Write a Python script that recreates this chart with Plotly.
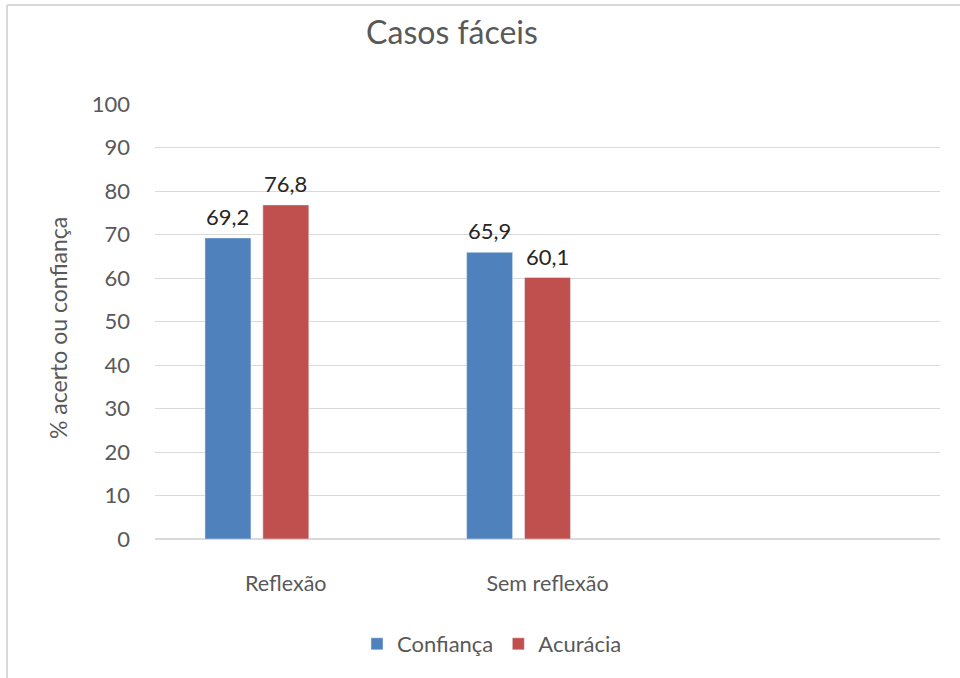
import plotly.graph_objects as go

categories = ["Reflexão", "Sem reflexão"]
confianca = [69.2, 65.9]
acuracia = [76.8, 60.1]
series_names = ["Confiança", "Acurácia"]
y_ticks = [0, 10, 20, 30, 40, 50, 60, 70, 80, 90, 100]

W, H = 960, 678
L, R, T, B = 155, 20, 104, 139
pw, ph = W - L - R, H - T - B
cat_px = pw / 3.0

def px_x(p):
    return (p - L) / pw

def px_y(p):
    return (H - B - p) / ph

font = "Lato, Open Sans, sans-serif"
gray = "#595959"
bar_w = 0.1756
offsets = [-0.309, -0.0878]
colors = ["#4F81BD", "#C0504D"]
series = [confianca, acuracia]

fig = go.Figure()
annotations = []
for name, vals, col, off in zip(series_names, series, colors, offsets):
    fig.add_trace(go.Bar(
        x=categories, y=vals, name=name,
        marker=dict(color=col), width=bar_w, offset=off,
    ))
    for c, v in zip(categories, vals):
        annotations.append(dict(
            x=c, y=v, xref="x", yref="y", text=f"{v:.1f}".replace(".", ","),
            showarrow=False, xanchor="center", yanchor="bottom",
            xshift=(off + bar_w / 2) * cat_px, yshift=6,
            font=dict(family=font, size=22, color="#262626"),
        ))

annotations.append(dict(text="% acerto ou confiança", xref="paper", yref="paper",
                        x=px_x(58), y=px_y(328), textangle=-90, showarrow=False,
                        xanchor="center", yanchor="middle",
                        font=dict(family=font, size=23, color=gray)))

fig.update_layout(
    width=W, height=H,
    margin=dict(l=L, r=R, t=T, b=B),
    paper_bgcolor="white", plot_bgcolor="white",
    separators=", ",
    barmode="overlay",
    showlegend=True,
    title=dict(text="Casos fáceis", x=px_x(452), xref="paper", xanchor="center",
               y=1 - 33 / H, yref="container", yanchor="middle",
               font=dict(family=font, size=32, color=gray)),
    legend=dict(orientation="h", x=px_x(492), xanchor="center", y=px_y(644), yanchor="middle",
                font=dict(family=font, size=22, color=gray), itemwidth=30,
                traceorder="normal"),
    xaxis=dict(type="category", range=[-0.5, 2.5], showgrid=False, showline=False,
               ticks="", tickfont=dict(family=font, size=21.5, color=gray),
               ticklabelstandoff=29, zeroline=False),
    yaxis=dict(range=[0, 100], tickvals=y_ticks, showgrid=True, gridcolor="#D9D9D9",
               gridwidth=1, zeroline=True, zerolinecolor="#D9D9D9", zerolinewidth=1.5,
               showline=False, ticks="", ticklabelstandoff=24,
               tickfont=dict(family=font, size=22, color=gray)),
    annotations=annotations,
    shapes=[
        dict(type="line", xref="paper", yref="paper", x0=px_x(7), x1=px_x(962),
             y0=px_y(5), y1=px_y(5), line=dict(color="#D9D9D9", width=2)),
        dict(type="line", xref="paper", yref="paper", x0=px_x(7), x1=px_x(7),
             y0=px_y(5), y1=px_y(680), line=dict(color="#D9D9D9", width=2)),
    ],
)

fig.write_html("out.html", config={"displayModeBar": False},
               post_script="document.body.style.margin='0';")
